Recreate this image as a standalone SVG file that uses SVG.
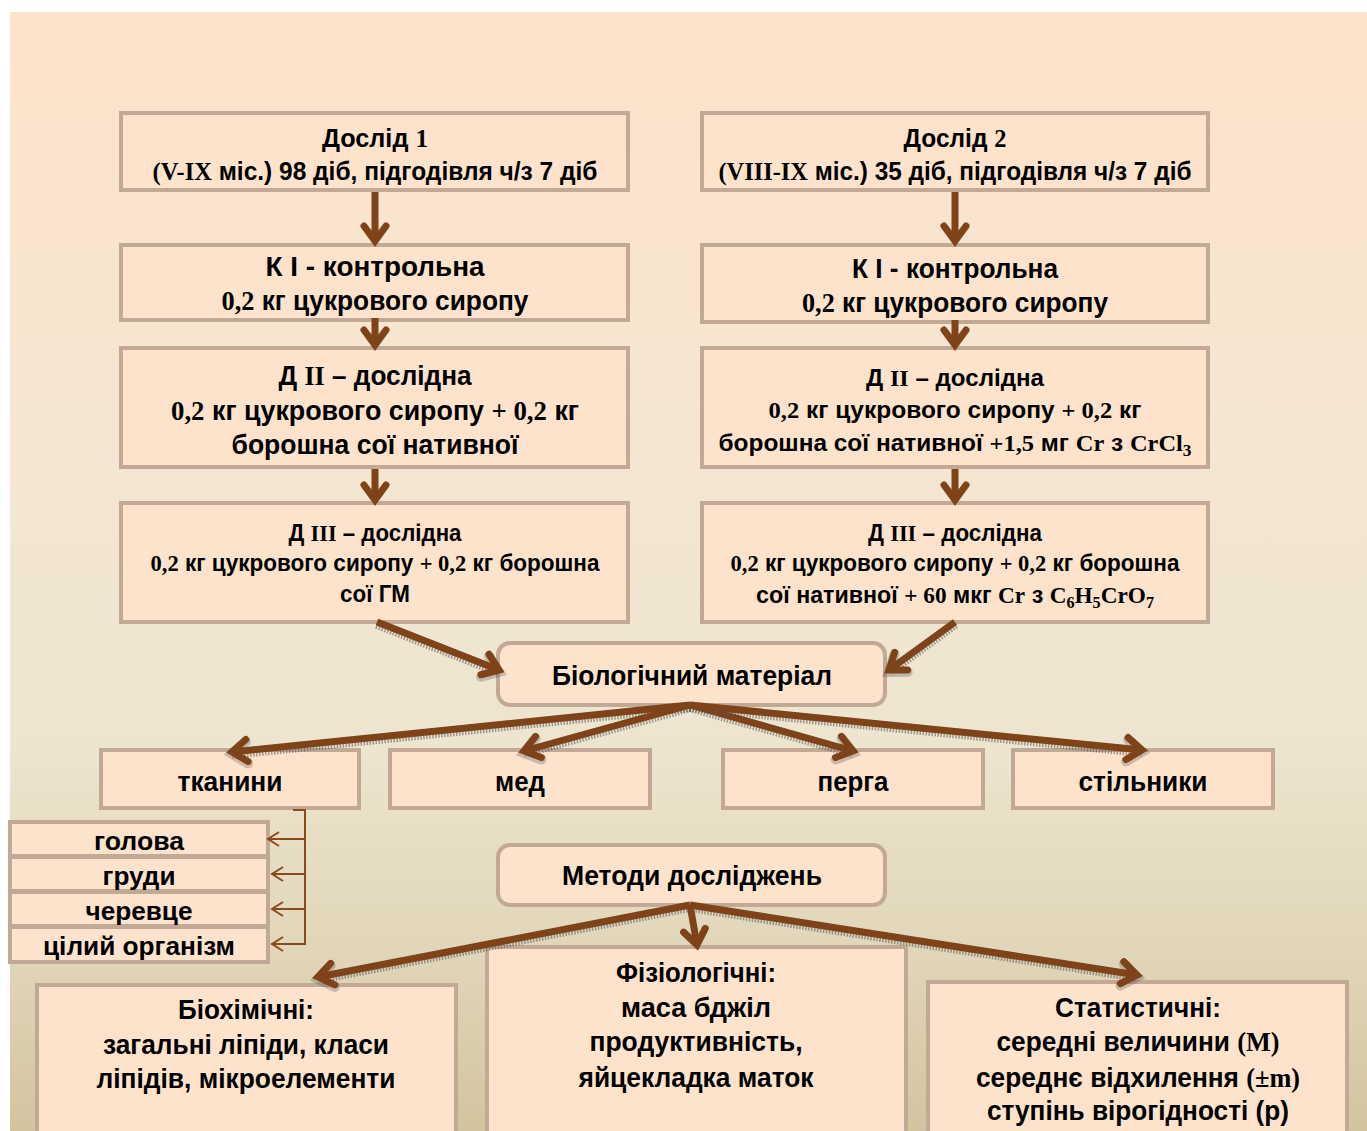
<svg xmlns="http://www.w3.org/2000/svg" width="1367" height="1131" viewBox="0 0 1367 1131">
<defs>
<linearGradient id="bg" x1="0" y1="0" x2="0" y2="1">
<stop offset="0" stop-color="#fde3ca"/>
<stop offset="0.4" stop-color="#f4e6d2"/>
<stop offset="0.65" stop-color="#ede5cf"/>
<stop offset="0.85" stop-color="#e0d5b7"/>
<stop offset="1" stop-color="#d3c4a0"/>
</linearGradient>
<marker id="chev" markerUnits="userSpaceOnUse" viewBox="-24 -16 30 32" markerWidth="30" markerHeight="32" refX="0" refY="0" orient="auto" overflow="visible">
<path d="M-15,-11 L0,0 L-15,11" fill="none" stroke="#7e4319" stroke-width="7" stroke-linecap="round"/>
</marker>
<marker id="chevS" markerUnits="userSpaceOnUse" viewBox="-24 -16 30 32" markerWidth="30" markerHeight="32" refX="0" refY="0" orient="auto" overflow="visible">
<path d="M-15,-11 L0,0 L-15,11" fill="none" stroke="#555" stroke-width="10" stroke-dasharray="1.5 1.5" stroke-linecap="round" opacity="0.55"/>
</marker>
<marker id="thin" markerUnits="userSpaceOnUse" viewBox="-14 -9 16 18" markerWidth="16" markerHeight="18" refX="0" refY="0" orient="auto" overflow="visible">
<path d="M-11,-7 L0,0 L-11,7" fill="none" stroke="#8a4a1c" stroke-width="2"/>
</marker>
</defs>
<style>
.box{fill:#fee3cc;stroke:#c1a995;stroke-width:4}
.t{font-family:"Liberation Sans",Arial,sans-serif;font-weight:bold;fill:#000;text-anchor:middle}
.s{font-family:"Liberation Serif","Times New Roman",serif}
.sh{fill:none;stroke:#555;stroke-width:10;stroke-dasharray:1.5 1.5;opacity:0.55;marker-end:url(#chevS)}
.ar{fill:none;stroke:#7e4319;stroke-width:7;marker-end:url(#chev)}
.tn{fill:none;stroke:#8a4a1c;stroke-width:2}
.tna{fill:none;stroke:#8a4a1c;stroke-width:2;marker-end:url(#thin)}
</style>
<rect x="0" y="0" width="1367" height="1131" fill="#fff"/>
<rect x="10" y="12" width="1357" height="1119" fill="url(#bg)"/>

<g id="n-dosl1">
<rect class="box" x="121" y="113" width="507" height="77"/>
<text class="t" x="375" y="147" font-size="25" textLength="106" lengthAdjust="spacingAndGlyphs">Дослід <tspan class="s">1</tspan></text>
<text class="t" x="375" y="180" font-size="25" textLength="445" lengthAdjust="spacingAndGlyphs"><tspan class="s">(V-IX</tspan> міс.) 98 діб, підгодівля ч/з 7 діб</text>
</g>
<g id="n-dosl2">
<rect class="box" x="702" y="113" width="506" height="77"/>
<text class="t" x="955" y="147" font-size="25" textLength="103" lengthAdjust="spacingAndGlyphs">Дослід <tspan class="s">2</tspan></text>
<text class="t" x="955" y="180" font-size="25" textLength="473" lengthAdjust="spacingAndGlyphs"><tspan class="s">(VIII-IX</tspan> міс.) 35 діб, підгодівля ч/з 7 діб</text>
</g>
<g id="n-k1-left">
<rect class="box" x="121" y="245" width="507" height="75"/>
<text class="t" x="375" y="276" font-size="28" textLength="219" lengthAdjust="spacingAndGlyphs">К I - контрольна</text>
<text class="t" x="375" y="310" font-size="27" textLength="307" lengthAdjust="spacingAndGlyphs"><tspan class="s">0,2</tspan> кг цукрового сиропу</text>
</g>
<g id="n-k1-right">
<rect class="box" x="702" y="245" width="506" height="77"/>
<text class="t" x="955" y="278" font-size="28" textLength="206" lengthAdjust="spacingAndGlyphs">К I - контрольна</text>
<text class="t" x="955" y="312" font-size="27" textLength="306" lengthAdjust="spacingAndGlyphs"><tspan class="s">0,2</tspan> кг цукрового сиропу</text>
</g>
<g id="n-d2-left">
<rect class="box" x="121" y="348" width="507" height="119"/>
<text class="t" x="375" y="385" font-size="28" textLength="193" lengthAdjust="spacingAndGlyphs">Д <tspan class="s">II</tspan> – дослідна</text>
<text class="t" x="375" y="420" font-size="28" textLength="408" lengthAdjust="spacingAndGlyphs"><tspan class="s">0,2</tspan> кг цукрового сиропу  <tspan class="s">+ 0,2</tspan> кг</text>
<text class="t" x="375" y="454" font-size="28" textLength="287" lengthAdjust="spacingAndGlyphs">борошна сої нативної</text>
</g>
<g id="n-d2-right">
<rect class="box" x="702" y="348" width="506" height="119"/>
<text class="t" x="955" y="386" font-size="24" textLength="178" lengthAdjust="spacingAndGlyphs">Д <tspan class="s">II</tspan> – дослідна</text>
<text class="t" x="955" y="418" font-size="24" textLength="373" lengthAdjust="spacingAndGlyphs"><tspan class="s">0,2</tspan> кг цукрового сиропу <tspan class="s">+ 0,2</tspan> кг</text>
<text class="t" x="955" y="451" font-size="24" textLength="473" lengthAdjust="spacingAndGlyphs">борошна сої нативної <tspan class="s">+1,5</tspan> мг <tspan class="s">Cr</tspan> з <tspan class="s">CrCl<tspan font-size="17" dy="5">3</tspan></tspan></text>
</g>
<g id="n-d3-left">
<rect class="box" x="121" y="503" width="507" height="119"/>
<text class="t" x="375" y="541" font-size="23" textLength="173" lengthAdjust="spacingAndGlyphs">Д <tspan class="s">III</tspan> – дослідна</text>
<text class="t" x="375" y="571" font-size="23" textLength="449" lengthAdjust="spacingAndGlyphs"><tspan class="s">0,2</tspan> кг цукрового сиропу <tspan class="s">+ 0,2</tspan> кг борошна</text>
<text class="t" x="375" y="602" font-size="23" textLength="70" lengthAdjust="spacingAndGlyphs">сої ГМ</text>
</g>
<g id="n-d3-right">
<rect class="box" x="702" y="503" width="506" height="119"/>
<text class="t" x="955" y="541" font-size="23" textLength="174" lengthAdjust="spacingAndGlyphs">Д <tspan class="s">III</tspan> – дослідна</text>
<text class="t" x="955" y="571" font-size="23" textLength="449" lengthAdjust="spacingAndGlyphs"><tspan class="s">0,2</tspan> кг цукрового сиропу <tspan class="s">+ 0,2</tspan> кг борошна</text>
<text class="t" x="955" y="603" font-size="23" textLength="398" lengthAdjust="spacingAndGlyphs">сої нативної <tspan class="s">+ 60</tspan> мкг <tspan class="s">Cr</tspan> з <tspan class="s">C<tspan font-size="16" dy="5">6</tspan><tspan dy="-5">H</tspan><tspan font-size="16" dy="5">5</tspan><tspan dy="-5">CrO</tspan><tspan font-size="16" dy="5">7</tspan></tspan></text>
</g>
<g id="n-biomat">
<rect class="box" x="498" y="643" width="387" height="62" rx="12"/>
<text class="t" x="692" y="685" font-size="28" textLength="280" lengthAdjust="spacingAndGlyphs">Біологічний матеріал</text>
</g>
<g id="n-tkanyny">
<rect class="box" x="101" y="750" width="258" height="58"/>
<text class="t" x="230" y="791" font-size="28" textLength="105" lengthAdjust="spacingAndGlyphs">тканини</text>
</g>
<g id="n-med">
<rect class="box" x="390" y="750" width="260" height="58"/>
<text class="t" x="520" y="791" font-size="28" textLength="50" lengthAdjust="spacingAndGlyphs">мед</text>
</g>
<g id="n-perga">
<rect class="box" x="723" y="750" width="260" height="58"/>
<text class="t" x="853" y="791" font-size="28" textLength="71" lengthAdjust="spacingAndGlyphs">перга</text>
</g>
<g id="n-stilnyky">
<rect class="box" x="1013" y="750" width="260" height="58"/>
<text class="t" x="1143" y="791" font-size="28" textLength="129" lengthAdjust="spacingAndGlyphs">стільники</text>
</g>
<g id="n-holova">
<rect class="box" x="10" y="822" width="258" height="34"/>
<text class="t" x="139" y="850" font-size="26" textLength="90" lengthAdjust="spacingAndGlyphs">голова</text>
</g>
<g id="n-hrudy">
<rect class="box" x="10" y="857" width="258" height="34"/>
<text class="t" x="139" y="885" font-size="26" textLength="73" lengthAdjust="spacingAndGlyphs">груди</text>
</g>
<g id="n-cherevtse">
<rect class="box" x="10" y="892" width="258" height="34"/>
<text class="t" x="139" y="920" font-size="26" textLength="107" lengthAdjust="spacingAndGlyphs">черевце</text>
</g>
<g id="n-organizm">
<rect class="box" x="10" y="927" width="258" height="35"/>
<text class="t" x="139" y="955" font-size="26" textLength="192" lengthAdjust="spacingAndGlyphs">цілий організм</text>
</g>
<g id="n-metody">
<rect class="box" x="498" y="845" width="387" height="60" rx="12"/>
<text class="t" x="692" y="885" font-size="27" textLength="260" lengthAdjust="spacingAndGlyphs">Методи досліджень</text>
</g>
<g id="n-biochem">
<rect class="box" x="37" y="985" width="419" height="170"/>
<text class="t" x="246" y="1019" font-size="28" textLength="136" lengthAdjust="spacingAndGlyphs">Біохімічні:</text>
<text class="t" x="246" y="1054" font-size="28" textLength="286" lengthAdjust="spacingAndGlyphs">загальні ліпіди, класи</text>
<text class="t" x="246" y="1088" font-size="28" textLength="299" lengthAdjust="spacingAndGlyphs">ліпідів, мікроелементи</text>
</g>
<g id="n-physio">
<rect class="box" x="487" y="947" width="419" height="200"/>
<text class="t" x="696" y="982" font-size="28" textLength="160" lengthAdjust="spacingAndGlyphs">Фізіологічні:</text>
<text class="t" x="696" y="1017" font-size="28" textLength="150" lengthAdjust="spacingAndGlyphs">маса  бджіл</text>
<text class="t" x="696" y="1051" font-size="28" textLength="213" lengthAdjust="spacingAndGlyphs">продуктивність,</text>
<text class="t" x="696" y="1087" font-size="28" textLength="235" lengthAdjust="spacingAndGlyphs">яйцекладка маток</text>
</g>
<g id="n-stat">
<rect class="box" x="928" y="982" width="419" height="170"/>
<text class="t" x="1138" y="1017" font-size="28" textLength="166" lengthAdjust="spacingAndGlyphs">Статистичні:</text>
<text class="t" x="1138" y="1051" font-size="28" textLength="283" lengthAdjust="spacingAndGlyphs">середні величини <tspan class="s">(M)</tspan></text>
<text class="t" x="1138" y="1087" font-size="28" textLength="324" lengthAdjust="spacingAndGlyphs">середнє відхилення <tspan class="s">(±m)</tspan></text>
<text class="t" x="1138" y="1120" font-size="28" textLength="302" lengthAdjust="spacingAndGlyphs">ступінь вірогідності (p)</text>
</g>

<g id="connectors">
<path class="ar" d="M375,192 V241"/>
<path class="ar" d="M955,192 V241"/>
<path class="ar" d="M375,318 V345"/>
<path class="ar" d="M955,320 V345"/>
<path class="ar" d="M375,469 V500"/>
<path class="ar" d="M955,469 V500"/>
<path class="sh" d="M377,624 L499,672"/>
<path class="ar" d="M377,622 L499,670"/>
<path class="sh" d="M955,624 L889,672"/>
<path class="ar" d="M955,622 L889,670"/>
<path class="sh" d="M690,707 L232,754"/>
<path class="ar" d="M690,705 L232,752"/>
<path class="sh" d="M690,707 L524,753"/>
<path class="ar" d="M690,705 L524,751"/>
<path class="sh" d="M690,707 L853,753"/>
<path class="ar" d="M690,705 L853,751"/>
<path class="sh" d="M690,707 L1142,752"/>
<path class="ar" d="M690,705 L1142,750"/>
<path class="sh" d="M690,907 L318,979"/>
<path class="sh" d="M690,907 L1137,977"/>
<path class="ar" d="M690,905 L318,977"/>
<path class="ar" d="M690,905 L697,945"/>
<path class="ar" d="M690,905 L1137,975"/>
<path class="tn" d="M293,810 H305 V945"/>
<path class="tna" d="M305,839 H268"/>
<path class="tna" d="M305,874 H272"/>
<path class="tna" d="M305,909 H272"/>
<path class="tna" d="M305,944 H272"/>
</g>
</svg>
